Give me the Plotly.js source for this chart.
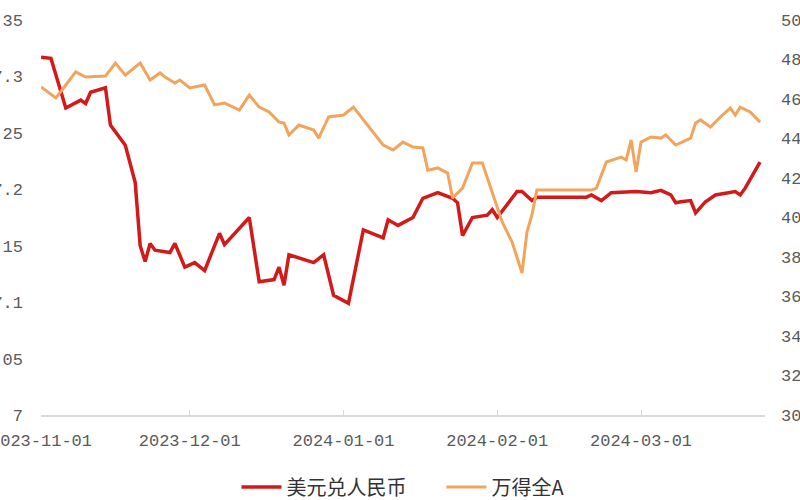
<!DOCTYPE html>
<html><head><meta charset="utf-8">
<script src="https://cdn.plot.ly/plotly-3.0.1.min.js"></script>
<style>html,body{margin:0;padding:0;background:#fff}</style>
</head><body><div id="chart" style="width:800px;height:500px"></div>
<script>
const usdDates = ['2023-11-01','2023-11-03','2023-11-06','2023-11-08','2023-11-09','2023-11-10','2023-11-11','2023-11-14','2023-11-15','2023-11-18','2023-11-20','2023-11-21','2023-11-22','2023-11-23','2023-11-24','2023-11-27','2023-11-28','2023-11-30','2023-12-02','2023-12-04','2023-12-07','2023-12-08','2023-12-11','2023-12-13','2023-12-15','2023-12-18','2023-12-19','2023-12-20','2023-12-21','2023-12-26','2023-12-28','2023-12-30','2024-01-02','2024-01-04','2024-01-05','2024-01-09','2024-01-10','2024-01-12','2024-01-15','2024-01-17','2024-01-20','2024-01-23','2024-01-24','2024-01-25','2024-01-27','2024-01-30','2024-01-31','2024-02-01','2024-02-05','2024-02-06','2024-02-08','2024-02-09','2024-02-19','2024-02-20','2024-02-22','2024-02-24','2024-02-27','2024-02-29','2024-03-03','2024-03-05','2024-03-07','2024-03-08','2024-03-09','2024-03-11','2024-03-12','2024-03-14','2024-03-16','2024-03-20','2024-03-21','2024-03-22','2024-03-25'];
const usdCny = [7.317,7.316,7.272,7.277,7.279,7.276,7.286,7.290,7.257,7.239,7.206,7.150,7.136,7.152,7.146,7.144,7.152,7.131,7.135,7.128,7.161,7.151,7.166,7.175,7.118,7.120,7.131,7.115,7.142,7.135,7.142,7.106,7.099,7.144,7.164,7.157,7.173,7.168,7.175,7.192,7.197,7.192,7.188,7.159,7.175,7.177,7.182,7.175,7.198,7.198,7.190,7.193,7.193,7.195,7.190,7.197,7.198,7.198,7.197,7.199,7.195,7.188,7.189,7.190,7.179,7.189,7.195,7.198,7.195,7.201,7.224];

const windDates = ['2023-11-01','2023-11-04','2023-11-06','2023-11-08','2023-11-10','2023-11-14','2023-11-16','2023-11-18','2023-11-21','2023-11-23','2023-11-25','2023-11-26','2023-11-28','2023-11-29','2023-12-01','2023-12-04','2023-12-06','2023-12-08','2023-12-11','2023-12-13','2023-12-15','2023-12-17','2023-12-19','2023-12-20','2023-12-21','2023-12-23','2023-12-26','2023-12-27','2023-12-29','2024-01-01','2024-01-03','2024-01-05','2024-01-07','2024-01-09','2024-01-11','2024-01-13','2024-01-15','2024-01-17','2024-01-18','2024-01-20','2024-01-22','2024-01-23','2024-01-25','2024-01-27','2024-01-29','2024-01-31','2024-02-02','2024-02-04','2024-02-06','2024-02-07','2024-02-08','2024-02-09','2024-02-20','2024-02-21','2024-02-23','2024-02-26','2024-02-27','2024-02-28','2024-02-29','2024-03-01','2024-03-03','2024-03-05','2024-03-06','2024-03-08','2024-03-11','2024-03-12','2024-03-13','2024-03-15','2024-03-17','2024-03-19','2024-03-20','2024-03-21','2024-03-23','2024-03-25'];
const windA = [4661,4605,4671,4737,4711,4716,4782,4721,4782,4696,4732,4711,4681,4696,4656,4671,4570,4580,4544,4620,4559,4534,4483,4478,4418,4468,4443,4402,4509,4519,4559,4494,4433,4367,4342,4382,4357,4352,4240,4251,4225,4099,4149,4276,4276,4129,3977,3876,3719,3927,4013,4139,4139,4149,4281,4306,4291,4392,4230,4382,4408,4402,4418,4367,4402,4478,4494,4458,4509,4554,4519,4559,4534,4483];

const seriesNames = ['美元兑人民币','万得全A'];
const xTickVals = ['2023-11-01','2023-12-01','2024-01-01','2024-02-01','2024-03-01'];
const xTickText = ['2023-11-01','2023-12-01','2024-01-01','2024-02-01','2024-03-01'];
const leftTickVals = [7,7.05,7.1,7.15,7.2,7.25,7.3,7.35];
const leftTickText = ['7','7.05','7.1','7.15','7.2','7.25','7.3','7.35'];
const rightTickVals = [3000,3200,3400,3600,3800,4000,4200,4400,4600,4800,5000];
const rightTickText = ['3000','3200','3400','3600','3800','4000','4200','4400','4600','4800','5000'];

const tickFont = {family:'Liberation Mono, DejaVu Sans Mono, monospace', size:17, color:'#5a5a5a'};

const traces = [
  {x: usdDates, y: usdCny, name: seriesNames[0], type:'scatter', mode:'lines',
   line:{color:'#d21a1a', width:3.5}, yaxis:'y'},
  {x: windDates, y: windA, name: seriesNames[1], type:'scatter', mode:'lines',
   line:{color:'#f2a45c', width:3}, yaxis:'y2'}
];

const layout = {
  width:800, height:500,
  margin:{l:41, r:35, t:20, b:85, pad:0, autoexpand:false},
  paper_bgcolor:'#fff', plot_bgcolor:'#fff',
  showlegend:true,
  legend:{orientation:'h', x:0.27, xanchor:'left', xref:'paper', yref:'container', y:0.026, yanchor:'middle',
    font:{family:'Noto Sans CJK SC, sans-serif', size:20, color:'#333'}, itemwidth:40, entrywidth:150, entrywidthmode:'pixels', traceorder:'normal'},
  xaxis:{type:'date', range:['2023-11-01','2024-03-26'], tickvals:xTickVals, ticktext:xTickText,
    tickfont:tickFont, showgrid:false, zeroline:false, showline:true, linecolor:'#d9d9d9', linewidth:2,
    ticks:'inside', ticklen:5, tickcolor:'#d9d9d9', tickwidth:1, ticklabelstandoff:9, ticklabeloverflow:'allow'},
  yaxis:{range:[7,7.35], tickvals:leftTickVals, ticktext:leftTickText, tickfont:tickFont,
    showgrid:false, zeroline:false, showline:false, ticks:'', ticklabelstandoff:17, ticklabeloverflow:'allow'},
  yaxis2:{range:[3000,5000], tickvals:rightTickVals, ticktext:rightTickText, tickfont:tickFont,
    overlaying:'y', side:'right', showgrid:false, zeroline:false, showline:false, ticks:'', ticklabelstandoff:15, ticklabeloverflow:'allow'}
};

Plotly.newPlot('chart', traces, layout, {displayModeBar:false, staticPlot:true});
</script>
</body></html>
